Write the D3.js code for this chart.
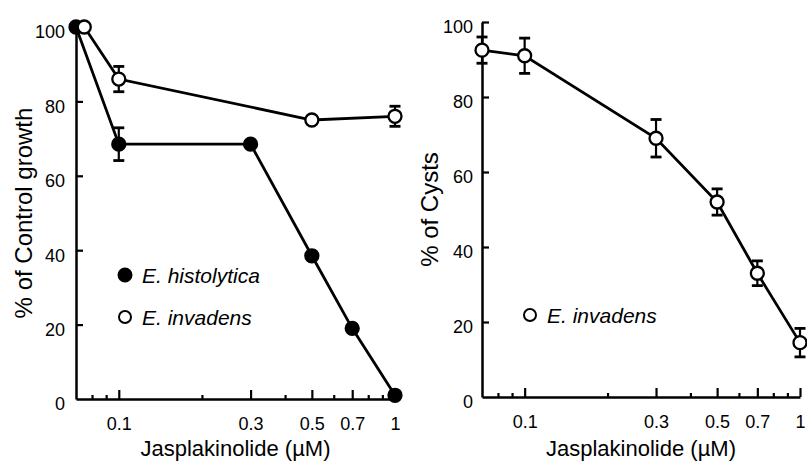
<!DOCTYPE html>
<html>
<head>
<meta charset="utf-8">
<script src="https://cdnjs.cloudflare.com/ajax/libs/d3/7.8.5/d3.min.js"></script>
<style>
  body { margin: 0; background: #fff; }
  svg { display: block; font-family: "Liberation Sans", Arial, Helvetica, sans-serif; }
</style>
</head>
<body>
<svg id="svg"></svg>
<script>
// data (control points are drawn at the left end of the log axis)
const histoConc = [0.07, 0.1, 0.3, 0.5, 0.7, 1];
const histoGrowth = [100, 68.5, 68.5, 38.5, 19, 1];
const histoErr = [0, 4.4, 0, 0, 0, 0];

const invadConc = [0.075, 0.1, 0.5, 1];
const invadGrowth = [100, 86, 75, 76];
const invadErr = [0, 3.4, 0, 2.7];

const cystConc = [0.07, 0.1, 0.3, 0.5, 0.7, 1];
const cystPct = [92.5, 91, 69, 52, 33, 14.5];
const cystErr = [3.5, 4.7, 5, 3.5, 3.3, 3.8];

const xTickVals = [0.1, 0.3, 0.5, 0.7, 1];
const xMinorVals = [0.08, 0.09, 0.2, 0.4, 0.6, 0.8, 0.9];
const yTickVals = [0, 20, 40, 60, 80, 100];

const xTitle = 'Jasplakinolide (\u00b5M)';

let width = 807, height = 464;
let svg = d3.select('#svg').attr('width', width).attr('height', height);

let zip = (xs, ys, es) => xs.map((x, i) => ({x: x, y: ys[i], e: es[i]}));

//----------------------------------------------------------------------------------------------------
let panel = (cfg) => {
  let x = d3.scaleLog().domain([0.07, 1]).range([cfg.left, cfg.right]);
  let y = d3.scaleLinear().domain([0, 100]).range([cfg.bottom, cfg.top]);
  let g = svg.append('g');

  // axes
  let xAxis = d3.axisBottom(x).tickValues(xTickVals).tickFormat(d => String(d))
                .tickSize(-9).tickSizeOuter(0).tickPadding(18);
  let xg = g.append('g').attr('transform', `translate(0,${cfg.bottom})`).call(xAxis);
  let xm = g.append('g').attr('transform', `translate(0,${cfg.bottom})`)
            .call(d3.axisBottom(x).tickValues(xMinorVals).tickFormat('').tickSize(-4).tickSizeOuter(0));
  xm.select('.domain').remove();

  let yAxis = d3.axisLeft(y).tickValues(yTickVals).tickSize(-7).tickSizeOuter(0).tickPadding(cfg.yPad);
  let yg = g.append('g').attr('transform', `translate(${cfg.left},0)`).call(yAxis);
  yg.select('.tick:first-of-type line').remove();

  [xg, xm, yg].forEach(a => {
    a.selectAll('.domain').attr('stroke', '#000').attr('stroke-width', 2.5);
    a.selectAll('.tick line').attr('stroke', '#000').attr('stroke-width', 2.2);
    a.selectAll('.tick text').attr('fill', '#000').style('font-size', '18px').attr('font-family', null);
  });
  yg.selectAll('.tick text').attr('dy', '0.6em');

  // axis titles
  g.append('text')
   .attr('x', (cfg.left + cfg.right) / 2).attr('y', 456)
   .attr('text-anchor', 'middle').style('font-size', '22px')
   .text(xTitle);
  g.append('text')
   .attr('transform', `translate(${cfg.yTitleX},${(cfg.top + cfg.bottom) / 2}) rotate(-90)`)
   .attr('text-anchor', 'middle').style('font-size', '24px')
   .text(cfg.yTitle);

  // series
  let line = d3.line().x(d => x(d.x)).y(d => y(d.y));
  cfg.series.forEach(s => {
    g.append('path').datum(s.data)
     .attr('d', line).attr('fill', 'none').attr('stroke', '#000').attr('stroke-width', 2.8);
    let eb = g.append('g').selectAll('g').data(s.data.filter(d => d.e > 0)).enter().append('g');
    eb.append('line')
      .attr('x1', d => x(d.x)).attr('x2', d => x(d.x))
      .attr('y1', d => y(d.y + d.e)).attr('y2', d => y(d.y - d.e))
      .attr('stroke', '#000').attr('stroke-width', 2.2);
    [1, -1].forEach(sg => {
      eb.append('line')
        .attr('x1', d => x(d.x) - 5.5).attr('x2', d => x(d.x) + 5.5)
        .attr('y1', d => y(d.y + sg * d.e)).attr('y2', d => y(d.y + sg * d.e))
        .attr('stroke', '#000').attr('stroke-width', 2.8);
    });
    g.append('g').selectAll('circle').data(s.data).enter().append('circle')
     .attr('cx', d => x(d.x)).attr('cy', d => y(d.y)).attr('r', 6.5)
     .attr('fill', s.filled ? '#000' : '#fff').attr('stroke', '#000').attr('stroke-width', 2.3);
  });

  // legend
  cfg.legend.forEach(l => {
    g.append('circle').attr('cx', l.cx).attr('cy', l.cy).attr('r', l.filled ? 6.5 : 6)
     .attr('fill', l.filled ? '#000' : '#fff').attr('stroke', '#000').attr('stroke-width', 2);
    g.append('text').attr('x', l.cx + 17).attr('y', l.cy + 8)
     .style('font-size', '21px').style('font-style', 'italic').text(l.label);
  });
};

panel({
  left: 76, right: 395, top: 27, bottom: 399, yPad: 11, yTitleX: 32,
  yTitle: '% of Control growth',
  series: [
    {filled: true, data: zip(histoConc, histoGrowth, histoErr)},
    {filled: false, data: zip(invadConc, invadGrowth, invadErr)}
  ],
  legend: [
    {cx: 125, cy: 275, filled: true, label: 'E. histolytica'},
    {cx: 125, cy: 317, filled: false, label: 'E. invadens'}
  ]
});

panel({
  left: 482, right: 800, top: 22, bottom: 397, yPad: 9, yTitleX: 438,
  yTitle: '% of Cysts',
  series: [
    {filled: false, data: zip(cystConc, cystPct, cystErr)}
  ],
  legend: [
    {cx: 530, cy: 315, filled: false, label: 'E. invadens'}
  ]
});
</script>
</body>
</html>
